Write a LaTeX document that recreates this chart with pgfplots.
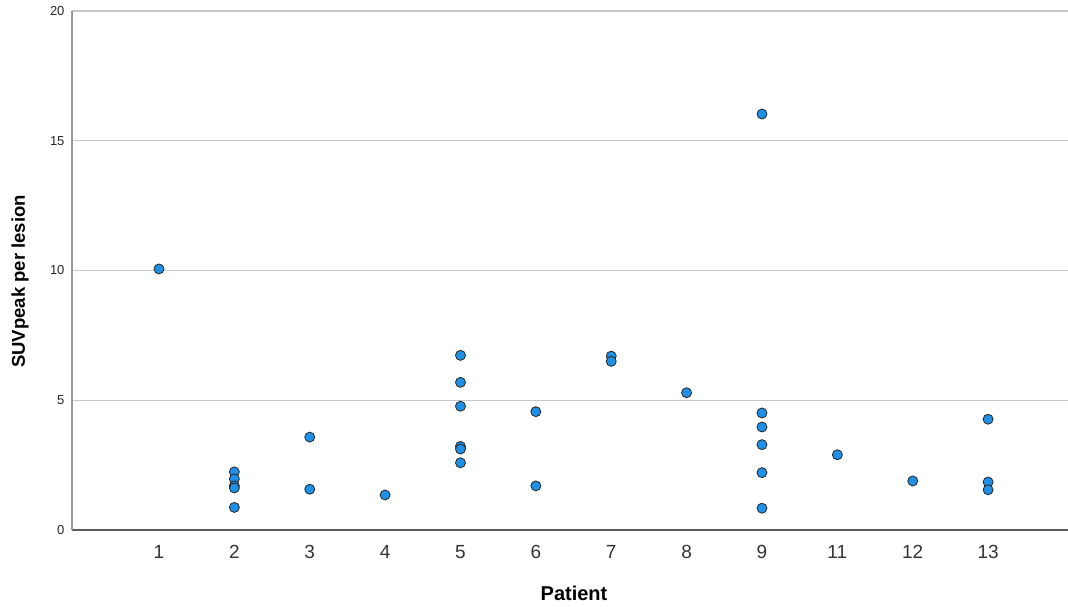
\documentclass[border=0pt]{standalone}
\usepackage{fontspec}
\setmainfont{Liberation Sans}
\usepackage{pgfplots}
\pgfplotsset{compat=1.18}
\definecolor{ptblue}{RGB}{30,144,230}
\begin{document}
\begin{tikzpicture}
\useasboundingbox (-72pt,-76pt) rectangle (996pt,530pt);
\begin{axis}[
  scale only axis, width=996pt, height=519pt,
  xmin=-1.154, xmax=12.06, ymin=0, ymax=20,
  xtick={0,...,11}, xticklabels={1,2,3,4,5,6,7,8,9,11,12,13},
  ytick={0,5,10,15,20},
  axis x line*=bottom, axis y line*=left,
  major tick length=0pt,
  ymajorgrids, grid style={color=black!22, line width=1.1pt},
  x axis line style={color=black!65, line width=1.2pt},
  y axis line style={color=black!40, line width=1.2pt},
  /pgf/number format/assume math mode=true,
  xticklabel style={font=\fontsize{19}{19}\selectfont, text=black!80, yshift=-12pt},
  yticklabel style={font=\fontsize{13}{13}\selectfont, text=black!85, xshift=-4pt},
  xlabel={Patient}, ylabel={SUVpeak per lesion},
  every axis x label/.style={at={(axis description cs:0.5,0)}, anchor=center, yshift=-63pt, xshift=4pt, font=\fontsize{20}{20}\selectfont\bfseries},
  every axis y label/.style={at={(axis description cs:0,0.5)}, anchor=center, rotate=90, yshift=52pt, xshift=-11pt, font=\fontsize{18.5}{18.5}\selectfont\bfseries},
  clip=false,
]
\addplot[only marks, mark=*, mark size=5pt, mark options={fill=ptblue, draw=black!85, line width=0.8pt}] coordinates {
 (0,10.06)
 (1,2.24) (1,1.97) (1,1.70) (1,1.62) (1,0.87)
 (2,3.58) (2,1.57)
 (3,1.35)
 (4,6.73) (4,5.69) (4,4.77) (4,3.22) (4,3.12) (4,2.59)
 (5,4.56) (5,1.70)
 (6,6.70) (6,6.50)
 (7,5.29)
 (8,16.03) (8,4.51) (8,3.97) (8,3.29) (8,2.21) (8,0.84)
 (9,2.90)
 (10,1.89)
 (11,4.27) (11,1.85) (11,1.55)
};
\end{axis}
\end{tikzpicture}
\end{document}
